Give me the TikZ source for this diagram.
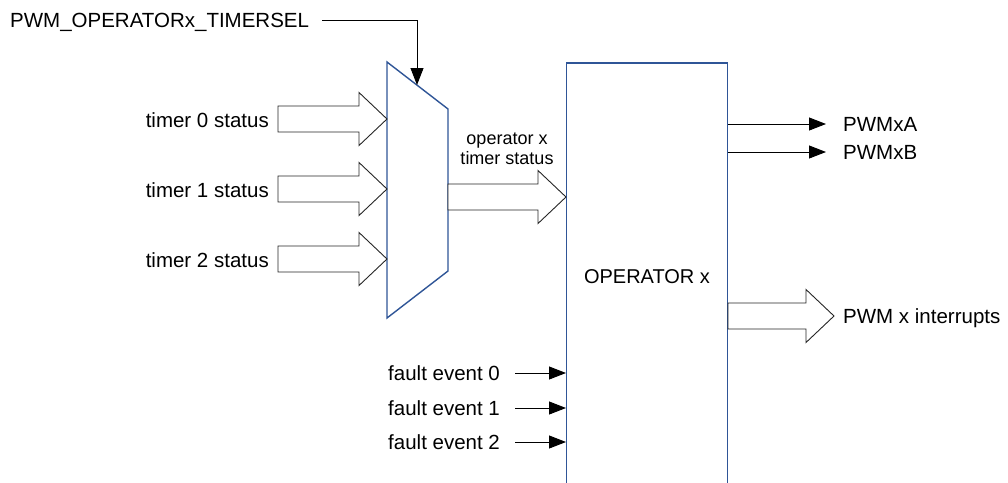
\documentclass[tikz,border=0pt]{standalone}
\usepackage{fontspec}
\setmainfont{Liberation Sans}
\usetikzlibrary{arrows.meta,calc,positioning}
\definecolor{opblue}{RGB}{47,85,151}

% wide hollow arrow, from #1 to the tip #2
\newcommand{\fatarrow}[2]{%
  \draw[fat] let \p1=(#1), \p2=(#2) in
    (\x1,\y2+13pt) -- (\x2-28pt,\y2+13pt) -- (\x2-28pt,\y2+26.5pt) -- (\x2,\y2)
    -- (\x2-28pt,\y2-26.5pt) -- (\x2-28pt,\y2-13pt) -- (\x1,\y2-13pt) -- cycle;}

\begin{document}
\begin{tikzpicture}[x=1pt, y=-1pt,
    lbl/.style={inner sep=0pt, font=\fontsize{20.5}{24}\selectfont, text height=14.7pt, text depth=0pt},
    small/.style={inner sep=0pt, font=\fontsize{18}{20}\selectfont, align=center},
    blk/.style={draw=opblue, line width=1.4pt, fill=white},
    sig/.style={-{Triangle[length=17pt,width=13pt]}, line width=0.9pt},
    fat/.style={draw=black!85, line width=0.9pt, fill=white}
]
\useasboundingbox (0,0) rectangle (1008,482);

% operator block (runs past the bottom edge)
\node[blk, minimum width=160.6pt, minimum height=427pt, inner sep=0pt,
      font=\fontsize{20}{24}\selectfont] (op) at (647,276.5) {OPERATOR x};

% timer select mux
\coordinate (muxtl) at (387,62);
\coordinate (muxtr) at (448,109);
\coordinate (muxbr) at (448,271);
\coordinate (muxbl) at (387,318);
\draw[blk] (muxtl) -- (muxtr) -- (muxbr) -- (muxbl) -- cycle;
\coordinate (mi0) at (387,119);
\coordinate (mi1) at (387,189);
\coordinate (mi2) at (387,259);
\coordinate (mo) at (448,197);
\coordinate (selin) at (417,85);

% select signal
\node[lbl, anchor=west] (sel) at (10,20) {PWM\_OPERATORx\_TIMERSEL};
\draw[sig] ([xshift=13pt]sel.east) -| (selin);

% timer inputs
\node[lbl, anchor=east] (t0) at (269,120) {timer 0 status};
\node[lbl, anchor=east] (t1) at (269,190) {timer 1 status};
\node[lbl, anchor=east] (t2) at (269,260) {timer 2 status};
\fatarrow{[xshift=9pt]t0.east}{mi0}
\fatarrow{[xshift=9pt]t1.east}{mi1}
\fatarrow{[xshift=9pt]t2.east}{mi2}

% mux to operator
\node[small] (tst) at (507,149) {operator x\\timer status};
\fatarrow{mo}{op.west |- mo}

% outputs
\node[lbl, anchor=west] (pwma) at (843,124) {PWMxA};
\node[lbl, anchor=west] (pwmb) at (843,152) {PWMxB};
\draw[sig, shorten >=17pt] (op.east |- pwma) -- (pwma.west);
\draw[sig, shorten >=17pt] (op.east |- pwmb) -- (pwmb.west);
\node[lbl, anchor=west] (irq) at (843,316) {PWM x interrupts};
\fatarrow{op.east |- irq}{[xshift=-9pt]irq.west}

% fault events
\node[lbl, anchor=west] (fe0) at (388,373) {fault event 0};
\node[lbl, anchor=west] (fe1) at (388,408) {fault event 1};
\node[lbl, anchor=west] (fe2) at (388,442) {fault event 2};
\draw[sig, shorten <=15pt] (fe0.east) -- (op.west |- fe0);
\draw[sig, shorten <=15pt] (fe1.east) -- (op.west |- fe1);
\draw[sig, shorten <=15pt] (fe2.east) -- (op.west |- fe2);
\end{tikzpicture}
\end{document}
